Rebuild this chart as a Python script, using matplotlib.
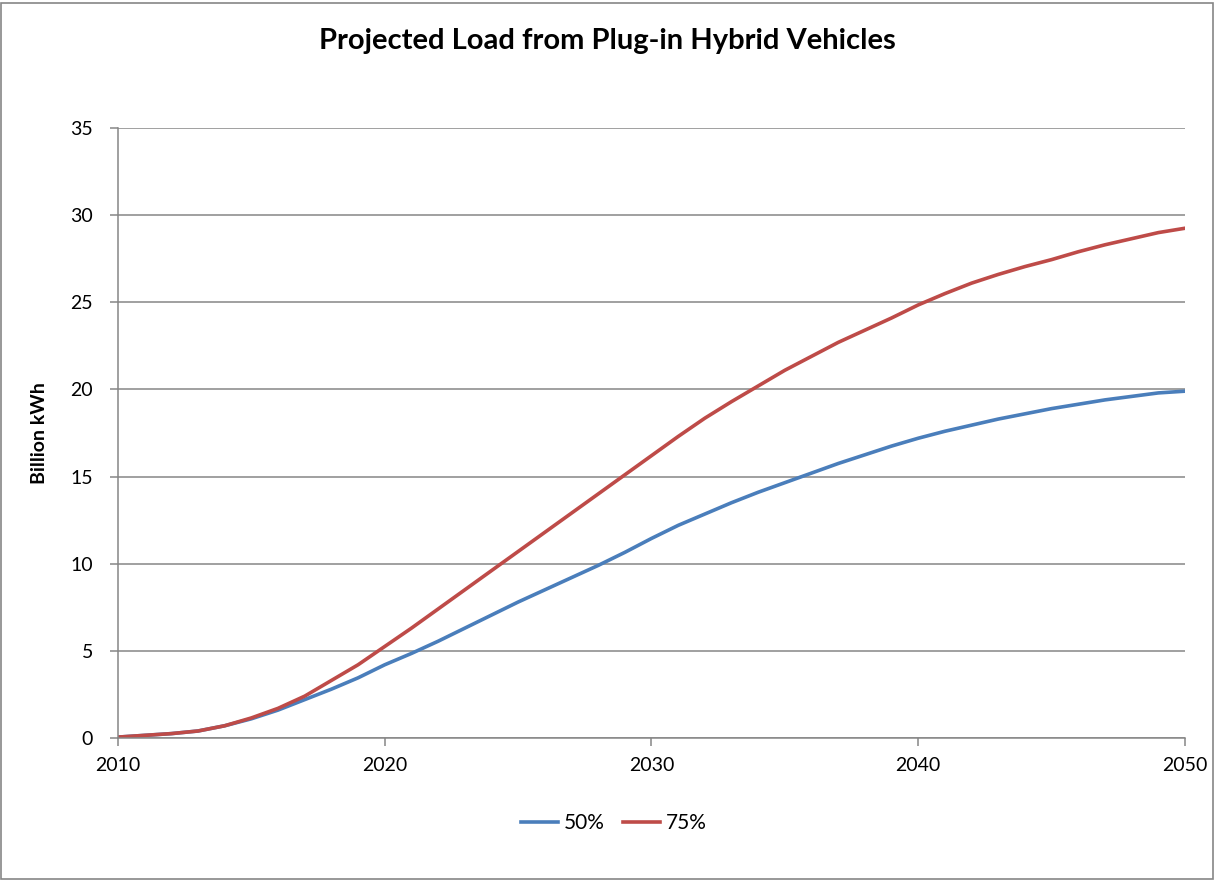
import numpy as np
import matplotlib.pyplot as plt
from matplotlib.patches import Rectangle

years = list(range(2010, 2051))

load_50 = [0.05, 0.15, 0.25, 0.4, 0.7, 1.1, 1.6, 2.2, 2.8, 3.45,
           4.2, 4.85, 5.55, 6.3, 7.05, 7.8, 8.5, 9.2, 9.9, 10.65,
           11.45, 12.2, 12.85, 13.5, 14.1, 14.65, 15.2, 15.75, 16.25, 16.75,
           17.2, 17.6, 17.95, 18.3, 18.6, 18.9, 19.15, 19.4, 19.6, 19.8,
           19.9]

load_75 = [0.05, 0.15, 0.25, 0.4, 0.7, 1.15, 1.7, 2.4, 3.3, 4.2,
           5.25, 6.3, 7.4, 8.5, 9.6, 10.7, 11.8, 12.9, 14.0, 15.1,
           16.2, 17.3, 18.35, 19.3, 20.2, 21.1, 21.9, 22.7, 23.4, 24.1,
           24.85, 25.5, 26.1, 26.6, 27.05, 27.45, 27.9, 28.3, 28.65, 29.0,
           29.25]

plt.rcParams['font.family'] = ['Lato', 'DejaVu Sans']

fig = plt.figure(figsize=(12.15, 8.8), dpi=100)
ax = fig.add_axes([0.0971, 0.1614, 0.8782, 0.6931])

ax.plot(years, load_50, color="#4A7EBB", lw=2.6, label="50%")
ax.plot(years, load_75, color="#BE4B48", lw=2.6, label="75%")

ax.set_xlim(2010, 2050)
ax.set_ylim(0, 35)
ax.set_xticks(range(2010, 2051, 10))
ax.set_yticks(range(0, 36, 5))
ax.yaxis.grid(True, color="#868686", lw=1.1)
ax.set_axisbelow(True)

for s in ["top", "right"]:
    ax.spines[s].set_visible(False)
for s in ["left", "bottom"]:
    ax.spines[s].set_color("#868686")
    ax.spines[s].set_linewidth(1.1)
ax.tick_params(axis="both", colors="#868686", length=6, width=1.1, labelsize=14, labelcolor="black")
ax.tick_params(axis="y", pad=12)
ax.tick_params(axis="x", pad=8)

ax.set_ylabel("Billion kWh", fontsize=14, fontweight="bold", labelpad=16)
fig.suptitle("Projected Load from Plug-in Hybrid Vehicles", fontsize=21, fontweight="bold", y=0.968)

fig.legend(loc="center", bbox_to_anchor=(0.505, 0.065), ncol=2, frameon=False,
           fontsize=15, handlelength=1.8, handletextpad=0.25, columnspacing=0.9)

fig.patches.append(Rectangle((0.001, 0.001), 0.997, 0.996, transform=fig.transFigure,
                             fill=False, edgecolor="#868686", lw=1.2))

fig.savefig("out.png", dpi=100)
